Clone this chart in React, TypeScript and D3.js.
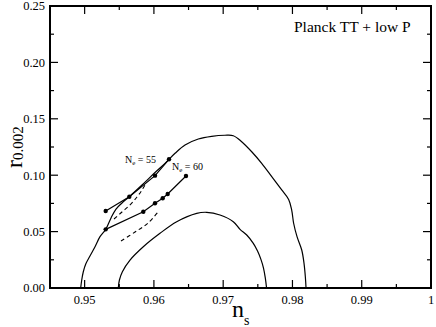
import React from 'react';
import * as d3 from 'd3';

// n_s / r contours (Planck TT + low P)
const outerNs = [0.94943, 0.94958, 0.9498, 0.95016, 0.95077, 0.9515, 0.95222, 0.95304, 0.95381, 0.95453, 0.95539, 0.9564, 0.95828, 0.96016, 0.9616, 0.96305, 0.96449, 0.96641, 0.96834, 0.97026, 0.97146, 0.97267, 0.97412, 0.97556, 0.97701, 0.97845, 0.97945, 0.97989, 0.98017, 0.98066, 0.98134, 0.98167, 0.98186, 0.98196];
const outerR = [0, 0.0071, 0.0142, 0.0213, 0.0284, 0.0366, 0.0455, 0.052, 0.0621, 0.07, 0.0754, 0.0807, 0.0913, 0.1024, 0.1105, 0.1194, 0.1268, 0.1321, 0.1345, 0.1354, 0.135, 0.1297, 0.1208, 0.1105, 0.0987, 0.0869, 0.0785, 0.0691, 0.0574, 0.0455, 0.0337, 0.0219, 0.01, 0];

const innerNs = [0.95486, 0.95502, 0.95545, 0.95655, 0.95847, 0.96088, 0.96329, 0.96618, 0.96762, 0.96954, 0.97146, 0.97243, 0.9734, 0.97435, 0.97496, 0.97546, 0.97582, 0.97608, 0.97626];
const innerR = [0, 0.0071, 0.0145, 0.0248, 0.0366, 0.0485, 0.0588, 0.0662, 0.0671, 0.0647, 0.0588, 0.052, 0.047, 0.0396, 0.0328, 0.0252, 0.0177, 0.0089, 0];

// model predictions
const n55Ns = [0.95304, 0.95645, 0.96016, 0.96218];
const n55R = [0.0683, 0.0809, 0.0996, 0.1141];
const n60Ns = [0.95304, 0.95847, 0.96016, 0.96127, 0.96199, 0.96463];
const n60R = [0.052, 0.0676, 0.0751, 0.0795, 0.0833, 0.0993];

const dashANs = [0.95424, 0.95539, 0.95655, 0.95756, 0.95828, 0.95886];
const dashAR = [0.0612, 0.0674, 0.0736, 0.0807, 0.0869, 0.0931];
const dashBNs = [0.95525, 0.95727, 0.95915, 0.96059];
const dashBR = [0.0417, 0.0496, 0.0576, 0.0674];

const xMajor = [0.95, 0.96, 0.97, 0.98, 0.99, 1.0];
const xLabels = ['0.95', '0.96', '0.97', '0.98', '0.99', '1'];
const xMinor = [0.955, 0.965, 0.975, 0.985, 0.995];
const yMajor = [0, 0.05, 0.1, 0.15, 0.2, 0.25];
const yLabels = ['0.00', '0.05', '0.10', '0.15', '0.20', '0.25'];
const yMinor = [0.025, 0.075, 0.125, 0.175, 0.225];

const W = 436;
const H = 327;
const left = 50, right = 431, top = 6, bottom = 288;

const x = d3.scaleLinear().domain([0.945, 1.0]).range([left, right]);
const y = d3.scaleLinear().domain([0, 0.25]).range([bottom, top]);

const zip = (a: number[], b: number[]) => a.map((v, i) => [v, b[i]] as [number, number]);

const smooth = d3.line<[number, number]>().x(d => x(d[0])).y(d => y(d[1])).curve(d3.curveCatmullRom.alpha(0.5));
const straight = d3.line<[number, number]>().x(d => x(d[0])).y(d => y(d[1]));

const serif = '"Liberation Serif", "DejaVu Serif", serif';

export default function App() {
  const major = 8, minor = 4;
  const n55 = zip(n55Ns, n55R);
  const n60 = zip(n60Ns, n60R);
  return (
    <svg width={W} height={H} style={{ position: 'absolute', left: 0, top: 0, background: '#fff' }} fontFamily={serif}>
      <path d={smooth(zip(outerNs, outerR)) || ''} fill="none" stroke="#000" strokeWidth={1.2} />
      <path d={smooth(zip(innerNs, innerR)) || ''} fill="none" stroke="#000" strokeWidth={1.2} />
      <path d={straight(n55) || ''} fill="none" stroke="#000" strokeWidth={1.2} />
      <path d={straight(n60) || ''} fill="none" stroke="#000" strokeWidth={1.2} />
      <path d={smooth(zip(dashANs, dashAR)) || ''} fill="none" stroke="#000" strokeWidth={1.1} strokeDasharray="4,3" />
      <path d={smooth(zip(dashBNs, dashBR)) || ''} fill="none" stroke="#000" strokeWidth={1.1} strokeDasharray="4,3" />
      {n55.concat(n60).map((d, i) => (
        <circle key={i} cx={x(d[0])} cy={y(d[1])} r={2.2} fill="#000" />
      ))}

      <text x={125} y={163} fontSize={10}>N<tspan fontSize={7} dy={2}>e</tspan><tspan dy={-2}> = 55</tspan></text>
      <text x={172} y={170} fontSize={10}>N<tspan fontSize={7} dy={2}>e</tspan><tspan dy={-2}> = 60</tspan></text>
      <text x={294} y={32} fontSize={15.5}>Planck TT + low P</text>

      {/* frame and ticks */}
      <rect x={left} y={top} width={right - left} height={bottom - top} fill="none" stroke="#000" strokeWidth={2} />
      {xMajor.map(v => (
        <g key={'xM' + v}>
          <line x1={x(v)} x2={x(v)} y1={bottom} y2={bottom - major} stroke="#000" strokeWidth={1.2} />
          <line x1={x(v)} x2={x(v)} y1={top} y2={top + major} stroke="#000" strokeWidth={1.2} />
        </g>
      ))}
      {xMinor.map(v => (
        <g key={'xm' + v}>
          <line x1={x(v)} x2={x(v)} y1={bottom} y2={bottom - minor} stroke="#000" strokeWidth={1.2} />
          <line x1={x(v)} x2={x(v)} y1={top} y2={top + minor} stroke="#000" strokeWidth={1.2} />
        </g>
      ))}
      {yMajor.map(v => (
        <g key={'yM' + v}>
          <line x1={left} x2={left + major} y1={y(v)} y2={y(v)} stroke="#000" strokeWidth={1.2} />
          <line x1={right} x2={right - major} y1={y(v)} y2={y(v)} stroke="#000" strokeWidth={1.2} />
        </g>
      ))}
      {yMinor.map(v => (
        <g key={'ym' + v}>
          <line x1={left} x2={left + minor} y1={y(v)} y2={y(v)} stroke="#000" strokeWidth={1.2} />
          <line x1={right} x2={right - minor} y1={y(v)} y2={y(v)} stroke="#000" strokeWidth={1.2} />
        </g>
      ))}
      {xMajor.map((v, i) => (
        <text key={'xl' + v} x={x(v)} y={303.5} fontSize={12.5} textAnchor="middle">{xLabels[i]}</text>
      ))}
      {yMajor.map((v, i) => (
        <text key={'yl' + v} x={45} y={y(v) + 4.3} fontSize={12.5} textAnchor="end">{yLabels[i]}</text>
      ))}

      <text x={232} y={316.5} fontSize={24}>n<tspan fontSize={14} dy={8}>s</tspan></text>
      <text transform="translate(22,147) rotate(-90)" textAnchor="middle" fontSize={24}>r<tspan fontSize={15} dy={1}>0.002</tspan></text>
    </svg>
  );
}
